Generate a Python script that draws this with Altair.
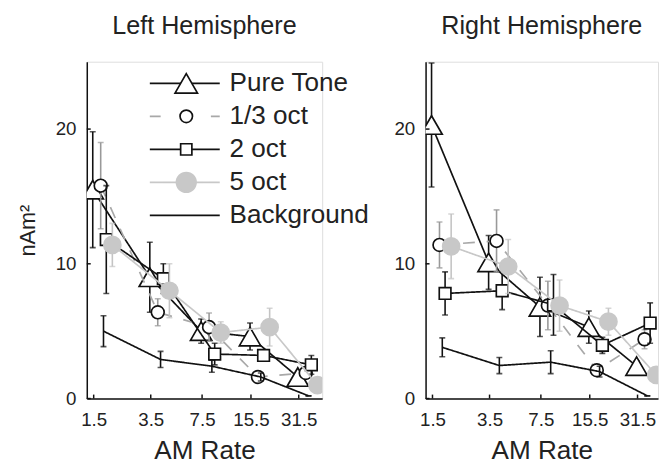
import altair as alt
import pandas as pd

FONT = "Liberation Sans"

RATES = [1.5, 3.5, 7.5, 15.5, 31.5]
SERIES = ["Pure Tone", "1/3 oct", "2 oct", "5 oct", "Background"]
Y_TICKS = [0, 10, 20]

# Left hemisphere (mean, error)
L_PURE = [15.5, 9.0, 5.0, 4.6, 1.6]
L_PURE_ERR = [4.3, 2.6, 0.9, 1.0, 0.4]
L_THIRD = [15.8, 6.4, 5.3, 1.6, 1.9]
L_THIRD_ERR = [3.2, 1.0, 1.05, 0.3, 0.3]
L_TWO = [11.8, 8.9, 3.3, 3.2, 2.5]
L_TWO_ERR = [4.0, 1.1, 0.8, 0.3, 0.7]
L_FIVE = [11.4, 8.0, 4.9, 5.3, 1.0]
L_FIVE_ERR = [1.6, 2.0, 0.8, 1.4, 0.3]
L_BG = [5.0, 2.9, 2.4, 1.6, 0.2]
L_BG_ERR = [1.15, 0.6, 0.45, 0.3, 0.0]

# Right hemisphere (mean, error)
R_PURE = [20.3, 10.1, 6.8, 5.3, 2.4]
R_PURE_ERR = [4.6, 2.0, 2.2, 1.2, 0.4]
R_THIRD = [11.4, 11.7, 6.9, 2.1, 4.4]
R_THIRD_ERR = [1.7, 2.3, 1.8, 0.4, 0.7]
R_TWO = [7.8, 8.0, 6.95, 3.95, 5.6]
R_TWO_ERR = [1.6, 1.4, 2.25, 0.6, 1.5]
R_FIVE = [11.3, 9.8, 6.9, 5.7, 1.75]
R_FIVE_ERR = [2.4, 2.0, 1.9, 1.0, 0.3]
R_BG = [3.8, 2.45, 2.7, 2.0, 0.2]
R_BG_ERR = [0.7, 0.6, 0.85, 0.4, 0.0]

# Styling per series
SHIFT = {"Pure Tone": -0.02, "1/3 oct": 0.15, "2 oct": 0.27, "5 oct": 0.40, "Background": 0.21}
LINE_COLOR = {"Pure Tone": "#111111", "1/3 oct": "#a8a8a8", "2 oct": "#111111", "5 oct": "#c8c8c8", "Background": "#111111"}
ERR_COLOR = {"Pure Tone": "#111111", "1/3 oct": "#999999", "2 oct": "#111111", "5 oct": "#c4c4c4", "Background": "#111111"}
DASH = {"Pure Tone": [1, 0], "1/3 oct": [12, 12], "2 oct": [1, 0], "5 oct": [1, 0], "Background": [1, 0]}
SHAPE = {"Pure Tone": "triangle-up", "1/3 oct": "circle", "2 oct": "square", "5 oct": "circle"}
SIZE = {"Pure Tone": 470, "1/3 oct": 170, "2 oct": 140, "5 oct": 300}
FILL = {"Pure Tone": "white", "1/3 oct": "white", "2 oct": "white", "5 oct": "#c8c8c8"}
STROKE = {"Pure Tone": "#111111", "1/3 oct": "#111111", "2 oct": "#111111", "5 oct": "#c8c8c8"}

H = 342
K = 47.4  # px per log2 unit
XMIN = 1.354


def build_df(vals):
    rows = []
    for s, (m, e) in zip(SERIES, vals):
        for r, mv, ev in zip(RATES, m, e):
            rows.append({"series": s, "rate": r, "mean": mv, "lo": mv - ev, "hi": mv + ev,
                         "shift": SHIFT[s]})
    return pd.DataFrame(rows)


left_df = build_df([(L_PURE, L_PURE_ERR), (L_THIRD, L_THIRD_ERR), (L_TWO, L_TWO_ERR),
                    (L_FIVE, L_FIVE_ERR), (L_BG, L_BG_ERR)])
right_df = build_df([(R_PURE, R_PURE_ERR), (R_THIRD, R_THIRD_ERR), (R_TWO, R_TWO_ERR),
                     (R_FIVE, R_FIVE_ERR), (R_BG, R_BG_ERR)])


def panel(df, width, title, ytitle, legend):
    xmax = XMIN * 2 ** (width / K)
    xscale = alt.Scale(type="log", domain=[XMIN, xmax], nice=False)
    xaxis = alt.Axis(values=RATES, format=".1f", ticks=False, grid=False, labelFontSize=19,
                     labelPadding=12, labelColor="#222", domainColor="#111", domainWidth=1.5,
                     titleFontSize=26.5, titleFontWeight="normal", titleColor="#222",
                     titlePadding=9, labelFlush=False)
    yscale = alt.Scale(domain=[0, 25], nice=False)
    yaxis = alt.Axis(values=Y_TICKS, ticks=False, grid=False, labelFontSize=19,
                     labelPadding=11, labelColor="#222", domainColor="#111", domainWidth=1.5,
                     titleFontSize=22, titleFontWeight="normal", titleColor="#222",
                     titlePadding=16)

    def X(f="xp"):
        return alt.X(f"{f}:Q", scale=xscale, axis=xaxis, title="AM Rate")

    def Y(f):
        return alt.Y(f"{f}:Q", scale=yscale, axis=yaxis, title=ytitle)

    base = alt.Chart(df).transform_calculate(xp="datum.rate * pow(2, datum.shift)")
    layers = []
    for s in SERIES:
        b = base.transform_filter(alt.datum.series == s)
        layers.append(b.mark_line(color=LINE_COLOR[s], strokeWidth=1.7, strokeDash=DASH[s],
                                  clip=True).encode(x=X(), y=Y("mean")))
        layers.append(b.mark_rule(color=ERR_COLOR[s], strokeWidth=1.6, clip=True)
                      .encode(x=X(), y=Y("lo"), y2="hi:Q"))
        layers.append(b.mark_tick(orient="horizontal", size=6, thickness=1.6,
                                  color=ERR_COLOR[s], clip=True).encode(x=X(), y=Y("lo")))
        layers.append(b.mark_tick(orient="horizontal", size=6, thickness=1.6,
                                  color=ERR_COLOR[s], clip=True).encode(x=X(), y=Y("hi")))
        if s in SHAPE:
            layers.append(b.mark_point(shape=SHAPE[s], size=SIZE[s], fill=FILL[s],
                                       stroke=STROKE[s], strokeWidth=1.7, opacity=1,
                                       fillOpacity=1, clip=True)
                          .encode(x=X(), y=Y("mean")))

    xt = alt.Chart(pd.DataFrame({"xp": RATES})).mark_rule(color="#111", strokeWidth=1.5).encode(
        x=X(), y=alt.value(H), y2=alt.value(H - 4))
    yt = alt.Chart(pd.DataFrame({"mean": Y_TICKS})).mark_rule(color="#111", strokeWidth=1.5).encode(
        y=Y("mean"), x=alt.value(0), x2=alt.value(4))
    layers += [xt, yt]

    data_layer = alt.layer(*layers)

    if legend:
        ldf = pd.DataFrame({"series": SERIES})
        ly = alt.Y("series:N", scale=alt.Scale(type="point", domain=SERIES, range=[22, 156], padding=0),
                   axis=None)
        lg = []
        for s in SERIES:
            b = alt.Chart(ldf).transform_filter(alt.datum.series == s)
            dash = [11, 20] if s == "1/3 oct" else DASH[s]
            lg.append(b.mark_rule(color=LINE_COLOR[s], strokeWidth=1.7, strokeDash=dash).encode(
                x=alt.value(64), x2=alt.value(135), y=ly))
            if s in SHAPE:
                lsize = {"Pure Tone": 520, "1/3 oct": 160, "2 oct": 130, "5 oct": 400}[s]
                lg.append(b.mark_point(shape=SHAPE[s], size=lsize, fill=FILL[s], stroke=STROKE[s],
                                       strokeWidth=1.7, opacity=1, fillOpacity=1).encode(
                    x=alt.value(101), y=ly))
        lg.append(alt.Chart(ldf).mark_text(align="left", baseline="middle", fontSize=26.5,
                                           color="#222").encode(x=alt.value(145), y=ly, text="series:N"))
        chart = alt.layer(data_layer, alt.layer(*lg)).resolve_scale(y="independent")
    else:
        chart = data_layer

    return chart.properties(
        width=width, height=H,
        title=alt.TitleParams(title, fontSize=25.5, fontWeight="normal", color="#222",
                              anchor="middle", offset=23))


left = panel(left_df, 239, "Left Hemisphere", "nAm²", True)
right = panel(right_df, 236, "Right Hemisphere", "", False)

chart = alt.hconcat(left, right, spacing=105, bounds="flush").properties(
    padding={"left": 8, "top": 2, "right": 0, "bottom": 0}
).configure_view(stroke=None).configure(font=FONT)

chart.save("out.html", embed_options={"renderer": "svg", "actions": False})
